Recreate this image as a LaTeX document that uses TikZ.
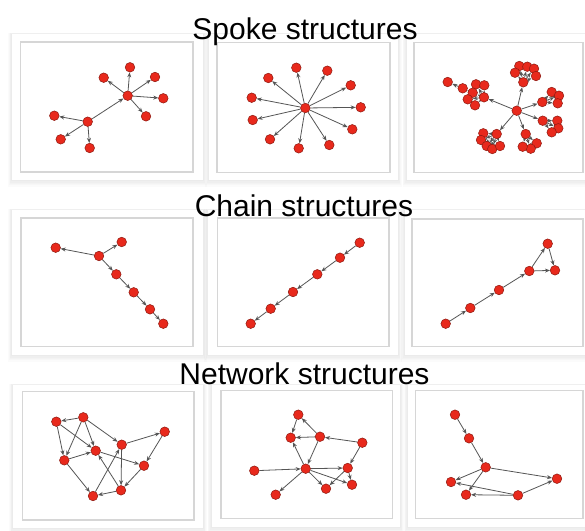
\documentclass[tikz,border=0pt]{standalone}
\usepackage{fontspec}
\setmainfont{Liberation Sans}
\usetikzlibrary{arrows.meta}
\definecolor{nred}{HTML}{E8291C}
\definecolor{nedge}{HTML}{8E1B12}
\definecolor{ecol}{HTML}{555555}
\definecolor{framec}{HTML}{D6D6D6}
\pgfdeclarelayer{back}
\pgfdeclarelayer{edges}
\pgfsetlayers{back,edges,main}
\tikzset{
  nd/.style={circle,inner sep=0pt,minimum size=9.6pt,fill=nred,draw=nedge,line width=0.5pt},
  ar/.style={draw=ecol,line width=0.8pt,-{Stealth[length=5pt,width=4pt]}},
  innerbox/.style={draw=framec,line width=1.2pt,fill=white},
  ttl/.style={font=\fontsize{30}{36}\selectfont,anchor=base,text=black,inner sep=0pt}
}
\newcommand\mycard[8]{%
  \foreach \k in {1,...,5}{\fill[black,opacity=0.015] (#1-\k*0.8,#2-\k*0.3) rectangle (#3+\k*0.8,#4+\k*1.3);}
  \fill[white] (#1,#2) rectangle (#3,#4);
  \draw[innerbox] (#5,#6) rectangle (#7,#8);}
\begin{document}
\begin{tikzpicture}[x=1pt,y=-1pt]
\useasboundingbox (0,0) rectangle (585,530);
\begin{pgfonlayer}{back}
\fill[white] (0,0) rectangle (585,530);
\mycard{12}{34}{203}{180}{20.5}{42}{193}{172}
\mycard{209}{34}{398}{180}{217}{42.5}{390}{172.5}
\mycard{406.5}{34}{595}{180}{414}{42.5}{583}{172.5}
\mycard{12}{210}{203}{355}{21}{218}{193}{346.5}
\mycard{208}{210}{398}{355}{217.5}{218}{389}{346.5}
\mycard{404.5}{210}{595}{355}{412}{219}{583}{346.5}
\mycard{13}{385}{203}{528}{22.5}{391.5}{194}{520}
\mycard{211.5}{385}{400}{527}{221}{390.7}{392.3}{518.3}
\mycard{407.7}{385}{595}{527}{415.7}{390.7}{583}{518.3}
\end{pgfonlayer}
\node[ttl] (t1) at (305,39) {Spoke structures};
\node[ttl] (t2) at (304,216) {Chain structures};
\node[ttl] (t3) at (304.5,384) {Network structures};

% Panel 1
\node[nd] (a0) at (127.7,95.7) {};
\node[nd] (b0) at (87.7,121.7) {};
\begin{pgfonlayer}{edges}\draw[ar] (b0) -- (a0);\end{pgfonlayer}
\foreach \p [count=\i] in {(130,67.3),(103.7,77.7),(155,77),(163.3,98.3),(146,116.3)}{
  \node[nd] (ac\i) at \p {};
  \begin{pgfonlayer}{edges}\draw[ar] (a0) -- (ac\i);\end{pgfonlayer}}
\foreach \p [count=\i] in {(54.3,115.7),(60.7,139.3),(89.7,148)}{
  \node[nd] (bc\i) at \p {};
  \begin{pgfonlayer}{edges}\draw[ar] (b0) -- (bc\i);\end{pgfonlayer}}

% Panel 2
\node[nd] (h2) at (305.3,108) {};
\foreach \p [count=\i] in {(296.3,67.7),(327.3,70.7),(350.7,85.3),(360.7,107.3),(352.3,129.3),(329.3,145),(298.7,148.3),(270,139.3),(252.7,120),(251.7,97.7),(268.3,78)}{
  \node[nd] (s\i) at \p {};
  \begin{pgfonlayer}{edges}\draw[ar] (h2) -- (s\i);\end{pgfonlayer}}

% Panel 3
\node[nd] (h3) at (516.7,110.7) {};
% upper-left cluster
\node[nd] (u1) at (447.7,82) {};
\node[nd] (u2) at (462.7,88.3) {};
\node[nd] (u3) at (476,84.3) {};
\node[nd] (u4) at (484.3,85.3) {};
\node[nd] (u5) at (472.7,92.7) {};
\node[nd] (u6) at (467.7,99.3) {};
\node[nd] (u7) at (484,97.3) {};
\node[nd] (u8) at (475,105.3) {};
\begin{pgfonlayer}{edges}
\draw[ar] (h3) -- (u7);
\draw[ar] (u2) -- (u1);
\draw[ar] (u5) -- (u2);
\foreach \j in {3,4,5,6,8}{\draw[ar] (u7) -- (u\j);}
\draw[ar] (u5) -- (u3);
\draw[ar] (u6) -- (u8);
\end{pgfonlayer}
% top cluster
\node[nd] (v0) at (523.3,82.3) {};
\foreach \p [count=\i] in {(519.3,66),(527.3,66.7),(534,68.7),(515,72.7),(536,76)}{
  \node[nd] (v\i) at \p {};
  \begin{pgfonlayer}{edges}\draw[ar] (v0) -- (v\i);\end{pgfonlayer}}
\begin{pgfonlayer}{edges}\draw[ar] (h3) -- (v0);\draw[ar] (v4) -- (v1);\draw[ar] (v5) -- (v3);\end{pgfonlayer}
% right-upper cluster
\node[nd] (w0) at (542.3,102) {};
\foreach \p [count=\i] in {(551.7,92),(559,95.7),(557.7,103.3)}{
  \node[nd] (w\i) at \p {};
  \begin{pgfonlayer}{edges}\draw[ar] (w0) -- (w\i);\end{pgfonlayer}}
\begin{pgfonlayer}{edges}\draw[ar] (h3) -- (w0);\draw[ar] (w1) -- (w3);\end{pgfonlayer}
% right-lower cluster
\node[nd] (x0) at (542.7,120.7) {};
\foreach \p [count=\i] in {(557.3,120.7),(558.3,128.3),(551.7,132.3)}{
  \node[nd] (x\i) at \p {};
  \begin{pgfonlayer}{edges}\draw[ar] (x0) -- (x\i);\end{pgfonlayer}}
\begin{pgfonlayer}{edges}\draw[ar] (h3) -- (x0);\draw[ar] (x1) -- (x3);\end{pgfonlayer}
% bottom-middle cluster
\node[nd] (y0) at (525.7,134) {};
\foreach \p [count=\i] in {(536.7,143.3),(530.7,148.7),(522.7,146.7)}{
  \node[nd] (y\i) at \p {};
  \begin{pgfonlayer}{edges}\draw[ar] (y0) -- (y\i);\end{pgfonlayer}}
\begin{pgfonlayer}{edges}\draw[ar] (h3) -- (y0);\draw[ar] (y1) -- (y3);\end{pgfonlayer}
% bottom-left cluster
\node[nd] (z0) at (496.7,134) {};
\foreach \p [count=\i] in {(483.3,133.3),(481,140),(486.7,146),(492.3,149),(500,146)}{
  \node[nd] (z\i) at \p {};
  \begin{pgfonlayer}{edges}\draw[ar] (z0) -- (z\i);\end{pgfonlayer}}
\begin{pgfonlayer}{edges}\draw[ar] (h3) -- (z0);\draw[ar] (z1) -- (z4);\draw[ar] (z2) -- (z5);\end{pgfonlayer}

% Panel 4
\node[nd] (c1) at (55.7,247.7) {};
\node[nd] (c2) at (99,256) {};
\node[nd] (c3) at (121.7,242) {};
\node[nd] (c4) at (116.3,274.3) {};
\node[nd] (c5) at (133.7,292.3) {};
\node[nd] (c6) at (150,309.3) {};
\node[nd] (c7) at (163.3,323.7) {};
\begin{pgfonlayer}{edges}
\draw[ar] (c2) -- (c1);
\draw[ar] (c2) -- (c3);
\draw[ar] (c2) -- (c4);
\draw[ar] (c4) -- (c5);
\draw[ar] (c5) -- (c6);
\draw[ar] (c6) -- (c7);
\end{pgfonlayer}

% Panel 5
\node[nd] (d1) at (359.7,242.7) {};
\node[nd] (d2) at (340,257.7) {};
\node[nd] (d3) at (317.3,274.3) {};
\node[nd] (d4) at (293,292) {};
\node[nd] (d5) at (270.7,308.7) {};
\node[nd] (d6) at (250.7,323.7) {};
\begin{pgfonlayer}{edges}
\draw[ar] (d1) -- (d2);
\draw[ar] (d2) -- (d3);
\draw[ar] (d3) -- (d4);
\draw[ar] (d4) -- (d5);
\draw[ar] (d5) -- (d6);
\end{pgfonlayer}

% Panel 6
\node[nd] (e1) at (445.7,323.7) {};
\node[nd] (e2) at (470.3,308) {};
\node[nd] (e3) at (499,290) {};
\node[nd] (e4) at (529.3,271) {};
\node[nd] (e5) at (547.7,243.7) {};
\node[nd] (e6) at (555,270.3) {};
\begin{pgfonlayer}{edges}
\draw[ar] (e1) -- (e2);
\draw[ar] (e2) -- (e3);
\draw[ar] (e3) -- (e4);
\draw[ar] (e4) -- (e5);
\draw[ar] (e4) -- (e6);
\draw[ar] (e5) -- (e6);
\end{pgfonlayer}

% Panel 7
\node[nd] (n1) at (56.3,421.7) {};
\node[nd] (n2) at (83.3,417.3) {};
\node[nd] (n3) at (121.7,444.7) {};
\node[nd] (n4) at (164.7,431.7) {};
\node[nd] (n5) at (95.7,450.7) {};
\node[nd] (n6) at (64.3,460.3) {};
\node[nd] (n7) at (144,465.7) {};
\node[nd] (n8) at (121,490.3) {};
\node[nd] (n9) at (93,496) {};
\begin{pgfonlayer}{edges}
\draw[ar] (n2) -- (n1);
\draw[ar] (n1) -- (n6);
\draw[ar] (n1) -- (n5);
\draw[ar] (n2) -- (n6);
\draw[ar] (n2) -- (n5);
\draw[ar] (n2) -- (n3);
\draw[ar] (n6) -- (n5);
\draw[ar] (n3) -- (n4);
\draw[ar] (n5) -- (n7);
\draw[ar] (n4) -- (n7);
\draw[ar] (n3) -- (n8);
\draw[ar] (n7) -- (n8);
\draw[ar] (n8) -- (n9);
\draw[ar] (n9) -- (n3);
\draw[ar] (n8) -- (n5);
\draw[ar] (n6) -- (n9);
\end{pgfonlayer}

% Panel 8
\node[nd] (m1) at (298.3,414.7) {};
\node[nd] (m2) at (290.7,437.7) {};
\node[nd] (m3) at (320,436.7) {};
\node[nd] (m4) at (362.3,442.7) {};
\node[nd] (m5) at (254.3,470.7) {};
\node[nd] (m6) at (305.7,468.7) {};
\node[nd] (m7) at (347.7,468) {};
\node[nd] (m8) at (352,484.7) {};
\node[nd] (m9) at (326,488.7) {};
\node[nd] (m10) at (275.7,494.7) {};
\begin{pgfonlayer}{edges}
\draw[ar] (m1) -- (m2);
\draw[ar] (m3) -- (m1);
\draw[ar] (m3) -- (m2);
\draw[ar] (m4) -- (m3);
\draw[ar] (m3) -- (m6);
\draw[ar] (m6) -- (m2);
\draw[ar] (m5) -- (m6);
\draw[ar] (m6) -- (m7);
\draw[ar] (m4) -- (m7);
\draw[ar] (m6) -- (m9);
\draw[ar] (m6) -- (m8);
\draw[ar] (m7) -- (m8);
\draw[ar] (m7) -- (m9);
\draw[ar] (m6) -- (m10);
\end{pgfonlayer}

% Panel 9
\node[nd] (p1) at (455,414.7) {};
\node[nd] (p2) at (469,438.3) {};
\node[nd] (p3) at (485.7,467.3) {};
\node[nd] (p4) at (557,478.7) {};
\node[nd] (p5) at (451,482) {};
\node[nd] (p6) at (466,494.7) {};
\node[nd] (p7) at (518,495.3) {};
\begin{pgfonlayer}{edges}
\draw[ar] (p1) -- (p2);
\draw[ar] (p2) -- (p3);
\draw[ar] (p3) -- (p4);
\draw[ar] (p3) -- (p5);
\draw[ar] (p3) -- (p6);
\draw[ar] (p7) -- (p6);
\draw[ar] (p7) -- (p5);
\draw[ar] (p7) -- (p4);
\end{pgfonlayer}
\end{tikzpicture}
\end{document}
